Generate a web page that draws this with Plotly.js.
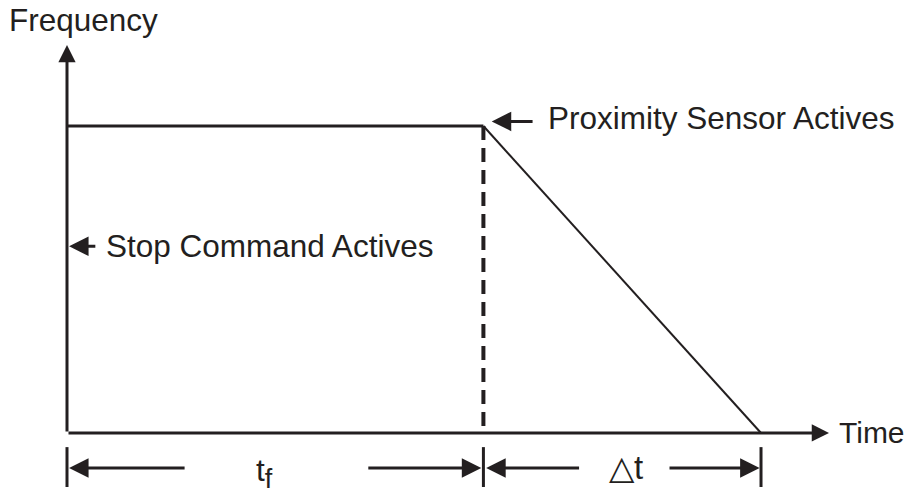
<!DOCTYPE html>
<html>
<head>
<meta charset="utf-8">
<script src="https://cdn.plot.ly/plotly-3.0.1.min.js"></script>
<style>
  html, body { margin: 0; padding: 0; background: #fff; }
  #chart { width: 908px; height: 499px; }
</style>
</head>
<body>
<div id="chart"></div>
<script>
// event times (stop command, proximity sensor, motor stopped) and frequency levels
const eventTimes = [0, 6, 10];
const freqLevels = [1, 1, 0];
const axisLabels = ['Frequency', 'Time'];
const eventLabels = ['Stop Command Actives', 'Proximity Sensor Actives'];
const spanLabels = ['t<sub><span style="font-size:27px">f</span></sub>', '\u25B3t'];

const ink = '#231f20';
const font = { family: 'Liberation Sans, Arial, sans-serif', size: 31.5, color: ink };

const tStop = eventTimes[0], tProx = eventTimes[1], tEnd = eventTimes[2];
const fTop = freqLevels[0];

const traces = [
  {
    x: eventTimes.slice(0, 2), y: freqLevels.slice(0, 2),
    type: 'scatter', mode: 'lines',
    line: { color: ink, width: 3 }, hoverinfo: 'skip'
  },
  {
    x: eventTimes.slice(1), y: freqLevels.slice(1),
    type: 'scatter', mode: 'lines',
    line: { color: ink, width: 2 }, hoverinfo: 'skip'
  },
  {
    x: [tProx, tProx], y: [fTop, 0],
    type: 'scatter', mode: 'lines',
    line: { color: ink, width: 4, dash: '14px,8px' }, hoverinfo: 'skip'
  }
];

const dimY = -0.114;
const tickLo = -0.176, tickHi = -0.046;

// vertical ticks of the dimension row
[tStop, tProx, tEnd].forEach(t => {
  traces.push({
    x: [t, t], y: [tickLo, tickHi], type: 'scatter', mode: 'lines',
    line: { color: ink, width: 3 }, hoverinfo: 'skip'
  });
});

function arrow(x, y, ax, ay, size) {
  return {
    x: x, y: y, ax: ax, ay: ay, xref: 'x', yref: 'y', axref: 'x', ayref: 'y',
    text: '', showarrow: true, arrowhead: 2, arrowsize: size || 1.3,
    arrowwidth: 3, arrowcolor: ink, standoff: 0, startstandoff: 0
  };
}

function label(text, x, y, xanchor, size) {
  return {
    x: x, y: y, xref: 'x', yref: 'y', text: text, showarrow: false,
    xanchor: xanchor || 'left', yanchor: 'middle',
    font: Object.assign({}, font, size ? { size: size } : {})
  };
}

const spanTf = tProx - tStop, spanDt = tEnd - tProx;

const annotations = [
  // axes
  arrow(tStop, 1.264, tStop, 0, 1.15),
  arrow(10.98, 0, tStop, 0, 1.15),
  // event pointers
  arrow(tStop + 0.03, 0.608, tStop + 0.43, 0.608),
  arrow(tProx + 0.12, 1.015, tProx + 0.73, 1.015),
  // dimension arrows
  arrow(tStop + 0.03, dimY, tStop + spanTf * 0.286, dimY),
  arrow(tProx - 0.03, dimY, tStop + spanTf * 0.72, dimY),
  arrow(tProx + 0.04, dimY, tProx + spanDt * 0.35, dimY),
  arrow(tEnd - 0.02, dimY, tProx + spanDt * 0.665, dimY),
  // texts
  label(axisLabels[0], -0.86, 1.345),
  label(axisLabels[1], 11.09, 0.0, 'left', 30),
  label(eventLabels[0], 0.54, 0.61),
  label(eventLabels[1], 6.9, 1.025),
  label(spanLabels[0], (tStop + tProx) / 2 - 0.15, -0.13, 'center'),
  label(spanLabels[1], (tProx + tEnd) / 2 + 0.05, dimY, 'center', 33)
];

const hidden = { visible: false, fixedrange: true };

const layout = {
  width: 908, height: 499,
  margin: { l: 0, r: 0, t: 0, b: 0 },
  showlegend: false,
  xaxis: Object.assign({ range: [-0.9654, 12.118] }, hidden),
  yaxis: Object.assign({ range: [-0.215, 1.4104] }, hidden),
  annotations: annotations,
  plot_bgcolor: '#ffffff',
  paper_bgcolor: '#ffffff'
};

Plotly.newPlot('chart', traces, layout, { staticPlot: true, displayModeBar: false });
</script>
</body>
</html>
